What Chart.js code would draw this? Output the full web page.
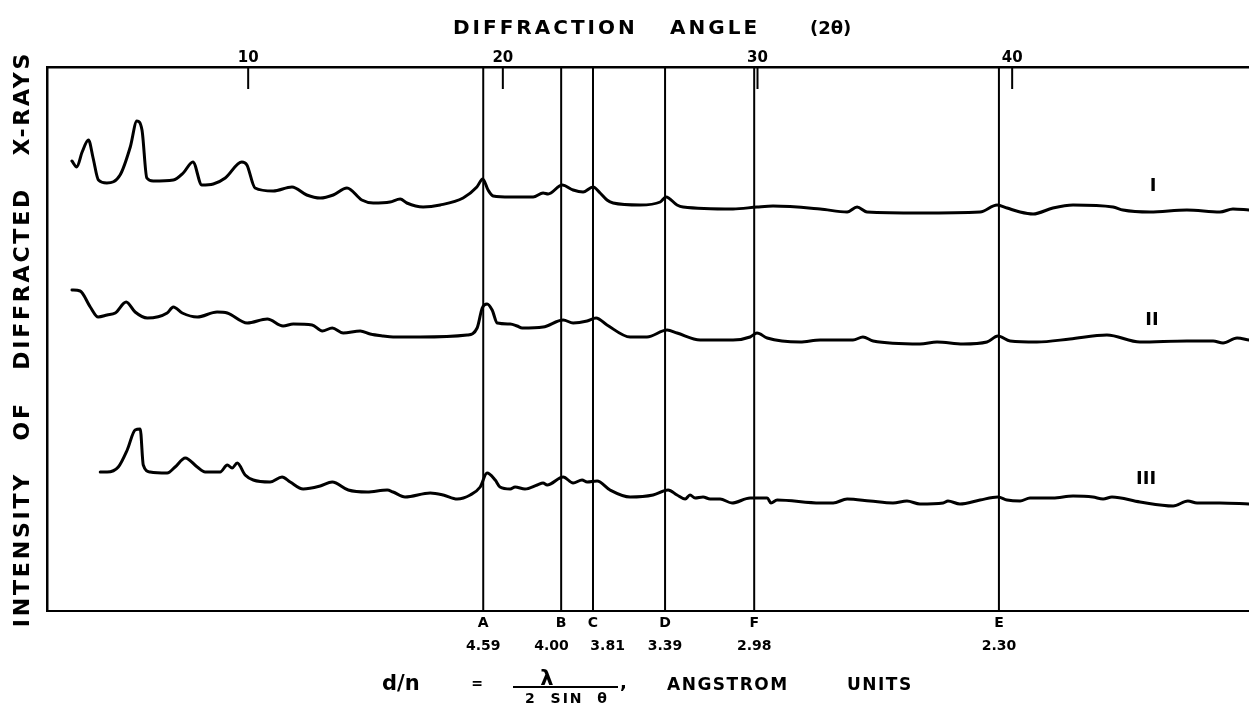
<!DOCTYPE html>
<html>
<head>
<meta charset="utf-8">
<script src="https://cdn.jsdelivr.net/npm/chart.js@4.4.0/dist/chart.umd.min.js"></script>
<style>
  html, body { margin: 0; padding: 0; background: #fff; }
</style>
</head>
<body>
<canvas id="myChart" width="1249" height="727"></canvas>
<script>
const ctx = document.getElementById('myChart').getContext('2d');

// curva I (angulo 2θ en grados, intensidad relativa)
const angulosI = [3.08, 3.27, 3.48, 3.73, 3.91, 4.12, 4.45, 4.97, 5.37, 5.63, 5.83, 6.02, 6.27, 7.06, 7.45, 7.83, 8.18, 8.63, 9.10, 9.75, 9.95, 10.27, 10.98, 11.72, 12.30, 12.83, 13.34, 13.88, 14.46, 14.91, 15.57, 15.97, 16.23, 16.87, 17.54, 18.44, 18.98, 19.21, 19.42, 19.62, 20.29, 21.19, 21.58, 21.78, 22.33, 22.76, 23.15, 23.54, 23.82, 24.09, 24.33, 25.39, 26.18, 26.41, 26.84, 27.08, 29.04, 29.98, 30.61, 32.46, 33.52, 33.91, 34.30, 36.38, 38.74, 39.41, 39.80, 40.31, 40.82, 41.60, 42.39, 43.96, 44.35, 45.41, 46.86, 48.16, 48.67, 49.30]
const curvaI = [450, 444, 459, 471, 453, 431, 428, 436, 464, 490, 481, 433, 430, 431, 438, 449, 426, 427, 433, 449, 446, 423, 420, 424, 416, 413, 416, 423, 411, 408, 409, 412, 408, 404, 406, 413, 424, 432, 421, 415, 414, 414, 418, 417, 426, 421, 419, 424, 418, 411, 408, 406, 409, 414, 406, 404, 402, 404, 405, 402, 399, 404, 399, 398, 399, 406, 403, 399, 397, 403, 406, 404, 401, 399, 401, 399, 402, 401]

// curva II
const angulosII = [3.08, 3.40, 3.80, 4.11, 4.46, 4.78, 5.21, 5.56, 6.04, 6.82, 7.06, 7.41, 8.00, 8.78, 9.18, 9.96, 10.75, 11.37, 11.77, 12.51, 12.91, 13.30, 13.73, 14.40, 14.79, 15.30, 15.69, 16.75, 18.60, 18.99, 19.19, 19.38, 19.58, 19.78, 20.29, 20.56, 20.76, 21.58, 22.37, 22.76, 23.31, 23.66, 24.09, 25.00, 25.66, 26.45, 26.84, 27.75, 29.04, 29.71, 29.98, 30.38, 31.67, 32.46, 33.75, 34.14, 34.54, 36.38, 37.05, 38.07, 39.01, 39.44, 39.92, 40.97, 42.27, 43.72, 45.02, 46.86, 47.89, 48.28, 48.83, 49.30]
const curvaII = [321, 320, 304, 294, 296, 298, 309, 299, 293, 298, 304, 298, 294, 299, 298, 288, 292, 285, 287, 286, 280, 283, 278, 280, 277, 275, 274, 274, 276, 283, 303, 307, 301, 288, 287, 285, 283, 284, 291, 288, 290, 293, 286, 274, 274, 281, 278, 271, 271, 274, 278, 273, 269, 271, 271, 274, 270, 267, 269, 267, 269, 275, 270, 269, 272, 276, 269, 270, 270, 268, 273, 271]

// curva III
const angulosIII = [4.19, 4.46, 4.90, 5.25, 5.56, 5.76, 5.88, 6.15, 6.82, 7.13, 7.53, 8.00, 8.31, 8.90, 9.18, 9.37, 9.57, 9.88, 10.20, 10.86, 11.33, 11.65, 12.16, 12.83, 13.30, 13.93, 14.67, 15.46, 15.69, 16.16, 17.15, 17.66, 18.21, 18.72, 19.11, 19.38, 19.70, 19.89, 20.29, 20.48, 20.87, 21.35, 21.58, 21.74, 22.37, 22.76, 23.11, 23.31, 23.70, 24.21, 25.00, 25.90, 26.49, 26.84, 27.16, 27.35, 27.55, 27.86, 28.14, 28.53, 29.00, 29.71, 30.38, 30.53, 30.77, 32.46, 32.97, 33.52, 34.42, 35.32, 35.87, 36.38, 37.29, 37.48, 37.95, 38.74, 39.44, 39.80, 40.31, 40.70, 41.60, 42.39, 43.17, 43.57, 43.92, 45.02, 46.32, 46.90, 47.26, 48.16, 49.30]
const curvaIII = [139, 139, 144, 161, 181, 182, 146, 139, 138, 144, 153, 144, 139, 139, 146, 143, 148, 136, 131, 129, 134, 129, 122, 125, 129, 121, 119, 121, 119, 114, 118, 116, 112, 116, 124, 138, 131, 124, 122, 124, 122, 126, 128, 126, 134, 128, 131, 129, 130, 121, 114, 116, 121, 116, 112, 116, 113, 114, 112, 112, 108, 113, 113, 108, 111, 108, 108, 112, 110, 108, 110, 107, 108, 110, 107, 111, 114, 111, 110, 113, 113, 115, 114, 112, 114, 109, 105, 110, 108, 108, 107]

// lineas de referencia
const picos = ['A', 'B', 'C', 'D', 'F', 'E']
const anguloPicos = [19.23, 22.29, 23.54, 26.37, 29.87, 39.48]
const espaciados = ['4.59', '4.00', '3.81', '3.39', '2.98', '2.30']

const ticksGrados = [10, 20, 30, 40]
const etiquetasCurvas = ['I', 'II', 'III']

const yMax = 544
const negro = '#000'
const fuente = 'DejaVu Sans'

function puntos(xs, ys) {
    return xs.map((x, i) => ({ x: x, y: ys[i] }))
}

let datasets = []

const curvas = [[angulosI, curvaI], [angulosII, curvaII], [angulosIII, curvaIII]]
curvas.forEach((c, i) => {
    datasets.push({
        label: etiquetasCurvas[i],
        data: puntos(c[0], c[1]),
        borderColor: negro,
        borderWidth: 3,
        pointRadius: 0,
        cubicInterpolationMode: 'monotone',
        borderJoinStyle: 'round',
        borderCapStyle: 'round'
    })
})

anguloPicos.forEach((a, i) => {
    datasets.push({
        label: picos[i],
        data: [{ x: a, y: 0 }, { x: a, y: yMax }],
        borderColor: negro,
        borderWidth: 2,
        pointRadius: 0
    })
})

// marcas cortas hacia adentro en el eje superior
ticksGrados.forEach((t) => {
    datasets.push({
        label: 'tick ' + t,
        data: [{ x: t, y: yMax }, { x: t, y: yMax - 22 }],
        borderColor: negro,
        borderWidth: 2,
        pointRadius: 0
    })
})

const textos = {
    id: 'textos',
    afterDraw(chart) {
        const c = chart.ctx
        const sx = chart.scales.x
        const sy = chart.scales.y
        c.save()
        c.fillStyle = negro

        // titulo superior
        c.textBaseline = 'middle'
        c.textAlign = 'left'
        c.font = 'bold 20px "' + fuente + '"'
        c.letterSpacing = '3px'
        c.fillText('DIFFRACTION', 453, 29)
        c.fillText('ANGLE', 670, 29)
        c.letterSpacing = '0px'
        c.font = 'bold 18px "' + fuente + '"'
        c.fillText('(2θ)', 810, 29)

        // etiquetas de curvas
        c.textAlign = 'center'
        c.font = 'bold 18px "' + fuente + '"'
        const pos = [[45.53, 425], [45.49, 291], [45.26, 132]]
        etiquetasCurvas.forEach((t, i) => {
            c.fillText(t, sx.getPixelForValue(pos[i][0]), sy.getPixelForValue(pos[i][1]))
        })

        // formula inferior
        c.textAlign = 'left'
        c.textBaseline = 'alphabetic'
        c.font = 'bold 21px "' + fuente + '"'
        c.fillText('d/n', 382, 690)
        c.font = 'bold 14px "' + fuente + '"'
        c.textAlign = 'center'
        c.fillText('=', 477, 688)
        c.font = 'bold 21px "' + fuente + '"'
        c.fillText('λ', 547, 685)
        c.fillRect(513, 686, 105, 2)
        c.font = 'bold 14px "' + fuente + '"'
        c.letterSpacing = '2px'
        c.fillText('2  SIN  θ', 567, 703)
        c.letterSpacing = '0px'
        c.textAlign = 'left'
        c.font = 'bold 18px "' + fuente + '"'
        c.fillText(',', 620, 688)
        c.font = 'bold 17px "' + fuente + '"'
        c.letterSpacing = '1.5px'
        c.fillText('ANGSTROM', 667, 690)
        c.fillText('UNITS', 847, 690)

        // titulo vertical
        c.letterSpacing = '2.8px'
        c.font = 'bold 22px "' + fuente + '"'
        c.translate(23, 339)
        c.rotate(-Math.PI / 2)
        c.textAlign = 'center'
        c.textBaseline = 'middle'
        c.fillText('INTENSITY   OF   DIFFRACTED   X-RAYS', 0, 0)
        c.restore()
    }
}

const render = new Chart(ctx, {
    type: 'line',
    data: { datasets: datasets },
    plugins: [textos],
    options: {
        responsive: false,
        animation: false,
        devicePixelRatio: 1,
        layout: { padding: 0 },
        plugins: {
            legend: { display: false },
            tooltip: { enabled: false }
        },
        scales: {
            x: {
                type: 'linear',
                position: 'top',
                min: 2.1,
                max: 49.3,
                afterBuildTicks: (s) => { s.ticks = ticksGrados.map((v) => ({ value: v })) },
                afterFit: (s) => { s.height = 67 },
                ticks: {
                    color: negro,
                    padding: 0,
                    maxRotation: 0,
                    autoSkip: false,
                    font: { family: fuente, weight: 'bold', size: 15 }
                },
                grid: { drawOnChartArea: false, drawTicks: false },
                border: { color: negro, width: 2.5 }
            },
            x2: {
                type: 'linear',
                position: 'bottom',
                min: 2.1,
                max: 49.3,
                afterBuildTicks: (s) => { s.ticks = anguloPicos.map((v) => ({ value: v })) },
                afterFit: (s) => { s.height = 116 },
                ticks: {
                    color: negro,
                    padding: 0,
                    maxRotation: 0,
                    minRotation: 0,
                    autoSkip: false,
                    font: { family: fuente, weight: 'bold', size: 14, lineHeight: 1.7 },
                    callback: (v, i) => {
                        let d = espaciados[i]
                        if (d === '4.00') d = d + '    '
                        if (d === '3.81') d = '      ' + d
                        return [picos[i], d]
                    }
                },
                grid: { drawOnChartArea: false, drawTicks: false },
                border: { color: negro, width: 2 }
            },
            y: {
                type: 'linear',
                position: 'left',
                min: 0,
                max: yMax,
                afterFit: (s) => { s.width = 47 },
                ticks: { display: false },
                grid: { drawOnChartArea: false, drawTicks: false },
                border: { color: negro, width: 2.5 }
            }
        }
    }
});
</script>
</body>
</html>
